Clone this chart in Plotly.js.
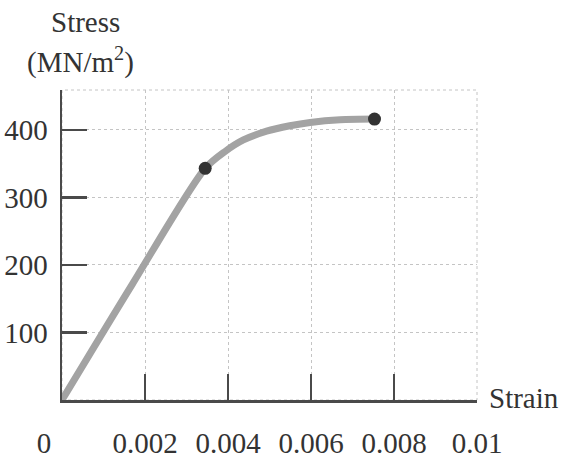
<!DOCTYPE html>
<html>
<head>
<meta charset="utf-8">
<script src="https://cdn.plot.ly/plotly-3.0.1.min.js"></script>
<style>html,body{margin:0;padding:0;background:#fff;}#chart{width:575px;height:460px;}</style>
</head>
<body>
<div id="chart"></div>
<script>
// Stress-strain curve values
const strain = [0, 0.0017, 0.00345, 0.00393, 0.00437, 0.00493, 0.00549, 0.00598, 0.0067, 0.00753];
const stress = [0, 172, 343, 368, 385, 398, 406, 411, 415, 416];
// Marked points (proportional limit, end of curve)
const markStrain = [0.00345, 0.00753];
const markStress = [343, 416];
// Axis ticks
const xTickVals = [0, 0.002, 0.004, 0.006, 0.008, 0.01];
const xTickText = ['0\u00a0\u00a0\u00a0\u00a0\u00a0', '0.002', '0.004', '0.006', '0.008', '0.01'];
const xMarkVals = [0.002, 0.004, 0.006, 0.008];
const yTickVals = [100, 200, 300, 400];
const yTickText = ['100', '200', '300', '400'];

const font = {family: 'Liberation Serif, Times New Roman, serif', size: 29, color: '#333333'};
const axisCol = '#4a4a4a';
const gridCol = '#c4c4c4';

const traces = [
  {x: strain, y: stress, type: 'scatter', mode: 'lines',
   line: {color: '#a3a3a3', width: 7, shape: 'spline', smoothing: 0.8},
   xaxis: 'x', yaxis: 'y', hoverinfo: 'skip'},
  {x: markStrain, y: markStress, type: 'scatter', mode: 'markers',
   marker: {color: '#333333', size: 13},
   xaxis: 'x2', yaxis: 'y', hoverinfo: 'skip'}
];

const layout = {
  width: 575, height: 460,
  margin: {l: 62, r: 98, t: 90, b: 60},
  paper_bgcolor: '#fff', plot_bgcolor: '#fff',
  showlegend: false,
  font: font,
  xaxis: {
    range: [0, 0.01], tickvals: xTickVals, ticktext: xTickText,
    ticks: '', showgrid: true, gridcolor: gridCol, griddash: 'dot', gridwidth: 1,
    showline: true, linecolor: axisCol, linewidth: 2.5, zeroline: false,
    ticklabelstandoff: 16, tickfont: font, fixedrange: true
  },
  xaxis2: {
    overlaying: 'x', range: [0, 0.01], tickvals: xMarkVals,
    ticks: 'inside', ticklen: 26, tickwidth: 2.5, tickcolor: axisCol,
    showticklabels: false, showgrid: false, showline: false, zeroline: false,
    side: 'bottom', fixedrange: true
  },
  yaxis: {
    range: [0, 459], tickvals: yTickVals, ticktext: yTickText,
    ticks: 'inside', ticklen: 25, tickwidth: 2.5, tickcolor: axisCol,
    showgrid: true, gridcolor: gridCol, griddash: 'dot', gridwidth: 1,
    showline: true, linecolor: axisCol, linewidth: 2.5, zeroline: false,
    tickfont: font, ticklabelstandoff: 6, fixedrange: true
  },
  shapes: [
    {type: 'rect', xref: 'paper', yref: 'paper', x0: 0, x1: 1, y0: 0, y1: 1,
     line: {color: gridCol, width: 1, dash: 'dot'}, layer: 'below'}
  ],
  annotations: [
    {text: 'Stress', xref: 'paper', yref: 'paper', x: 0, y: 1, xshift: 23, yshift: 68,
     xanchor: 'center', yanchor: 'middle', showarrow: false, font: font},
    {text: '(MN/m<sup>2</sup>)', xref: 'paper', yref: 'paper', x: 0, y: 1, xshift: 18, yshift: 30,
     xanchor: 'center', yanchor: 'middle', showarrow: false, font: font},
    {text: 'Strain', xref: 'paper', yref: 'paper', x: 1, y: 0, xshift: 10, yshift: 2,
     xanchor: 'left', yanchor: 'middle', showarrow: false, font: font}
  ]
};

Plotly.newPlot('chart', traces, layout, {staticPlot: true, displayModeBar: false});
</script>
</body>
</html>
